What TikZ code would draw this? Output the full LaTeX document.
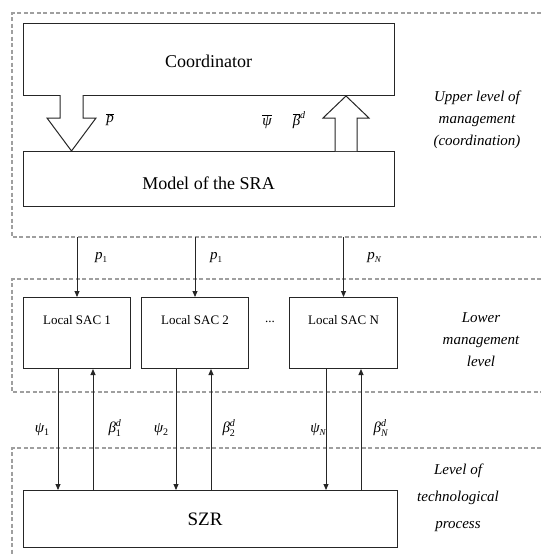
\documentclass[tikz,border=0pt]{standalone}
\usepackage{fontspec}
\setmainfont{Liberation Serif}
\usetikzlibrary{arrows.meta,calc}
\newcommand\ovl[1]{$\overline{\hbox{#1}}$}
\newcommand\supsub[3]{$\hbox{#1}^{\hbox{\fontsize{10}{10}\selectfont #2}}_{\hbox{\fontsize{10}{10}\selectfont #3}}$}
\begin{document}
\begin{tikzpicture}[x=1pt,y=-1pt,
  dashbox/.style={draw=gray!75, line width=1.3pt, dash pattern=on 4pt off 2.5pt},
  blk/.style={draw=black!85, line width=1pt, anchor=north west, inner sep=0pt},
  arr/.style={draw=black!85, line width=0.9pt, -{Triangle[length=6pt,width=5pt]}},
  hollow/.style={draw=black!85, line width=1pt, fill=white, line join=miter},
  big/.style={font=\fontsize{18}{21}\selectfont},
  mid/.style={font=\fontsize{13}{16}\selectfont},
  lvl/.style={font=\fontsize{15}{22}\selectfont\itshape, align=center},
  sym/.style={font=\fontsize{15}{18}\selectfont\itshape}]
\useasboundingbox (0,0) rectangle (541,555);
\fill[white] (0,0) rectangle (541,555);

% dashed level frames
\draw[dashbox] (541,13) -- (12,13) -- (12,237) -- (541,237);
\draw[dashbox] (541,279) -- (12,279) -- (12,392) -- (541,392);
\draw[dashbox] (541,448) -- (12,448) -- (12,555);

% upper level
\node[blk, minimum width=371pt, minimum height=72pt] (coord) at (23,23) {};
\node[big] (coordt) at (208.5,61) {Coordinator};
\node[blk, minimum width=371pt, minimum height=55pt] (model) at (23,151) {};
\node[big] (modelt) at (208.5,183) {Model of the SRA};

\draw[hollow] (60,95) -- (60,118) -- (47,118) -- (71.5,151) -- (96,118) -- (83,118) -- (83,95);
\draw[hollow] (335,151) -- (335,118) -- (323,118) -- (346,96) -- (369,118) -- (357,118) -- (357,151);

\node[sym] (pbar) at (110,120) {\ovl{p}};
\node[sym] (psibar) at (267,122) {\ovl{ψ}};
\node[sym] (betabar) at (299,120) {\ovl{β}\raisebox{1.1ex}{\fontsize{10}{10}\selectfont d}};

\node[lvl] (upper) at (477,120) {Upper level of\\management\\(coordination)};

% lower level
\node[blk, minimum width=107pt, minimum height=71pt] (sac1) at (23,297) {};
\node[blk, minimum width=107pt, minimum height=71pt] (sac2) at (141,297) {};
\node[blk, minimum width=108pt, minimum height=71pt] (sacN) at (289,297) {};
\node[mid] (sac1t) at ($(sac1.north)+(0,23)$) {Local SAC 1};
\node[mid] (sac2t) at ($(sac2.north)+(0,23)$) {Local SAC 2};
\node[mid] (sacNt) at ($(sacN.north)+(0,23)$) {Local SAC N};
\node[mid] (dots) at (270,322) {...};

\node[lvl] (lower) at (481,340) {Lower\\management\\level};

\coordinate (s1) at (sac1.north |- 0,237);
\coordinate (s2) at (sac2.north |- 0,237);
\coordinate (sN) at (sacN.north |- 0,237);
\draw[arr] (s1) -- (sac1.north);
\draw[arr] (s2) -- (sac2.north);
\draw[arr] (sN) -- (sacN.north);
\node[sym] (p1a) at (101,258) {p\raisebox{-0.3ex}{\fontsize{9}{9}\selectfont\upshape 1}};
\node[sym] (p1b) at (216,258) {p\raisebox{-0.3ex}{\fontsize{9}{9}\selectfont\upshape 1}};
\node[sym] (pN) at (374,258) {p\raisebox{-0.3ex}{\fontsize{9}{9}\selectfont N}};

% technological level
\node[blk, minimum width=374pt, minimum height=57pt] (szr) at (23,490) {};
\node[big, font=\fontsize{19}{22}\selectfont] (szrt) at (205,519) {SZR};
\node[lvl, font=\fontsize{15}{27}\selectfont\itshape] (tech) at (458,498) {Level of\\technological\\process};

\coordinate (d1) at (58,0);
\coordinate (u1) at (93,0);
\coordinate (d2) at (176,0);
\coordinate (u2) at (211,0);
\coordinate (dN) at (326,0);
\coordinate (uN) at (361,0);
\draw[arr] (sac1.south -| d1) -- (szr.north -| d1);
\draw[arr] (szr.north -| u1) -- (sac1.south -| u1);
\draw[arr] (sac2.south -| d2) -- (szr.north -| d2);
\draw[arr] (szr.north -| u2) -- (sac2.south -| u2);
\draw[arr] (sacN.south -| dN) -- (szr.north -| dN);
\draw[arr] (szr.north -| uN) -- (sacN.south -| uN);

\node[sym] (psi1) at (42,430) {ψ\raisebox{-0.4ex}{\fontsize{10}{10}\selectfont\upshape 1}};
\node[sym] (beta1) at (115,428) {\supsub{β}{d}{\upshape 1}};
\node[sym] (psi2) at (161,430) {ψ\raisebox{-0.4ex}{\fontsize{10}{10}\selectfont\upshape 2}};
\node[sym] (beta2) at (229,428) {\supsub{β}{d}{\upshape 2}};
\node[sym] (psiN) at (318,430) {ψ\raisebox{-0.4ex}{\fontsize{9}{9}\selectfont N}};
\node[sym] (betaN) at (381,428) {\supsub{β}{d}{N}};
\end{tikzpicture}
\end{document}
